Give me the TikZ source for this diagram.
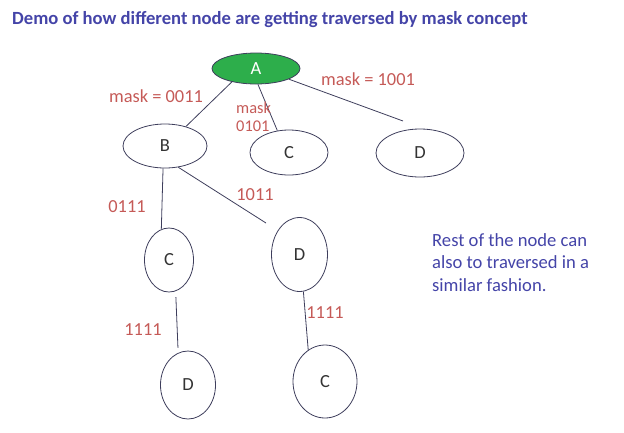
\documentclass[tikz,border=0pt]{standalone}
\usepackage{fontspec}
\setmainfont{Carlito}
\usetikzlibrary{shapes.geometric}
\definecolor{ttl}{HTML}{4444A8}
\definecolor{lbl}{HTML}{C55A57}
\definecolor{ln}{HTML}{3E3E5C}
\definecolor{grn}{HTML}{2DAE4B}
\definecolor{ltr}{HTML}{333333}
\tikzset{
  ell/.style={ellipse, draw=ln, line width=0.8pt, inner sep=0pt, text=ltr, font=\fontsize{18.5}{20}\selectfont},
  conn/.style={draw=ln, line width=0.8pt},
  masklbl/.style={text=lbl, font=\fontsize{18.4}{20}\selectfont, inner sep=0pt},
}
\begin{document}
\begin{tikzpicture}[x=1pt,y=-1pt]
\useasboundingbox (0,0) rectangle (624,432);
\node[font=\bfseries\fontsize{18.6}{21}\selectfont, text=ttl, anchor=west, inner sep=0pt] (title) at (12,20) {Demo of how different node are getting traversed by mask concept};
\node[ell, fill=grn, text=white, minimum width=88, minimum height=31] (A) at (256,68.5) {A};
\node[ell, minimum width=84, minimum height=44] (B) at (165,146) {B};
\node[ell, minimum width=78, minimum height=45] (C1) at (289,152.5) {C};
\node[ell, minimum width=88, minimum height=48] (D1) at (420,153) {\raisebox{-4pt}{D}};
\node[ell, minimum width=49, minimum height=64] (C2) at (169,260) {C};
\node[ell, minimum width=56, minimum height=74] (D2) at (299.5,254.5) {D};
\node[ell, minimum width=55, minimum height=68] (D3) at (188,385) {D};
\node[ell, minimum width=64, minimum height=73] (C3) at (325,381.5) {C};
\coordinate (eAD) at (403,121);
\coordinate (eBD) at (266,223);
\draw[conn] (A.209) -- (B.43);
\draw[conn] (A.277) -- (C1.118);
\draw[conn] (A.342) -- (eAD);
\draw[conn] (B.-95) -- (C2.104);
\draw[conn] (B.302) -- (eBD);
\draw[conn, shorten <=6pt, shorten >=5pt] (C2.-78) -- (D3.107);
\draw[conn] (D2.-84) -- (C3.118);
\node[masklbl] (m1) at (156,96) {mask = 0011};
\node[masklbl] (m2) at (368,79) {mask = 1001};
\node[masklbl, align=left, anchor=north west, font=\fontsize{16.4}{18}\selectfont] (m3) at (236,102) {mask\\0101};
\node[masklbl] (m4) at (127,207) {0111};
\node[masklbl] (m5) at (255,195) {1011};
\node[masklbl] (m6) at (143,330) {1111};
\node[masklbl] (m7) at (325,313) {1111};
\node[text=ttl, font=\fontsize{18.6}{22.5}\selectfont, align=left, anchor=north west, inner sep=0pt] (note) at (432,233) {Rest of the node can\\also to traversed in a\\similar fashion.};
\end{tikzpicture}
\end{document}
